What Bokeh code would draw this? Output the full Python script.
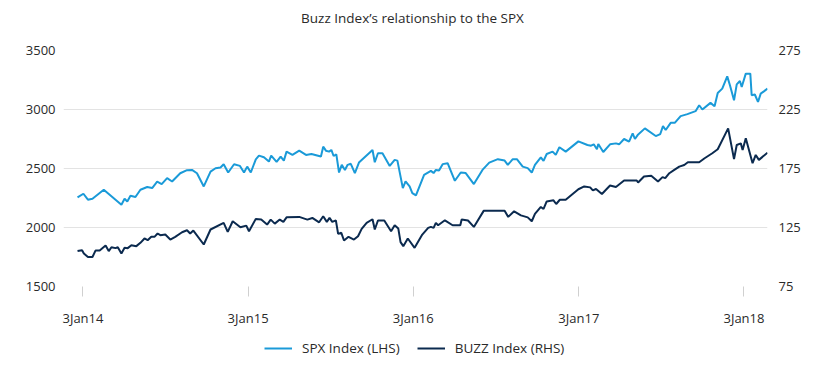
import pandas as pd
from bokeh.plotting import figure
from bokeh.layouts import column
from bokeh.models import (Range1d, LinearAxis, FixedTicker, Legend, LegendItem,
                          ColumnDataSource, Label)
from bokeh.embed import file_html
from bokeh.resources import INLINE

TITLE = "Buzz Index\u2019s relationship to the SPX"

spx_dates = [
    "2013-12-22", "2014-01-04", "2014-01-14", "2014-01-24", "2014-02-18", "2014-03-29",
    "2014-04-05", "2014-04-11", "2014-04-18", "2014-04-29", "2014-05-10", "2014-05-25",
    "2014-06-05", "2014-06-16", "2014-06-26", "2014-07-08", "2014-07-19", "2014-08-06",
    "2014-08-21", "2014-09-01", "2014-09-12", "2014-09-27", "2014-10-12", "2014-10-23",
    "2014-11-03", "2014-11-10", "2014-11-20", "2014-12-03", "2014-12-16", "2014-12-25",
    "2015-01-01", "2015-01-09", "2015-01-20", "2015-01-27", "2015-02-07", "2015-02-18",
    "2015-02-23", "2015-03-07", "2015-03-16", "2015-03-23", "2015-03-29", "2015-04-11",
    "2015-04-26", "2015-05-11", "2015-05-23", "2015-06-13", "2015-06-18", "2015-06-24",
    "2015-07-01", "2015-07-06", "2015-07-11", "2015-07-17", "2015-07-23", "2015-07-29",
    "2015-08-05", "2015-08-11", "2015-08-18", "2015-08-27", "2015-09-05", "2015-10-05",
    "2015-10-10", "2015-10-17", "2015-10-27", "2015-11-12", "2015-11-23", "2015-11-29",
    "2015-12-11", "2015-12-17", "2015-12-26", "2016-01-01", "2016-01-09", "2016-01-27",
    "2016-02-11", "2016-02-17", "2016-02-22", "2016-02-29", "2016-03-08", "2016-03-19",
    "2016-04-04", "2016-04-17", "2016-04-28", "2016-05-16", "2016-06-04", "2016-06-19",
    "2016-07-08", "2016-07-23", "2016-07-30", "2016-08-10", "2016-08-19", "2016-09-01",
    "2016-09-12", "2016-09-21", "2016-09-28", "2016-10-11", "2016-10-17", "2016-10-24",
    "2016-11-06", "2016-11-13", "2016-11-21", "2016-12-05", "2017-01-02", "2017-01-22",
    "2017-01-30", "2017-02-05", "2017-02-12", "2017-02-15", "2017-02-26", "2017-03-13",
    "2017-03-26", "2017-04-02", "2017-04-13", "2017-04-24", "2017-05-02", "2017-05-07",
    "2017-05-13", "2017-05-29", "2017-06-22", "2017-07-02", "2017-07-08", "2017-07-14",
    "2017-07-25", "2017-08-03", "2017-08-16", "2017-08-31", "2017-09-18", "2017-09-26",
    "2017-10-03", "2017-10-21", "2017-10-30", "2017-11-06", "2017-11-16", "2017-11-27",
    "2017-12-03", "2017-12-12", "2017-12-18", "2017-12-25", "2017-12-29", "2018-01-07",
    "2018-01-17", "2018-01-20", "2018-01-27", "2018-02-03", "2018-02-09", "2018-02-16",
    "2018-02-24",
]
spx_values = [
    2255, 2286, 2236, 2244, 2320, 2193,
    2244, 2221, 2269, 2258, 2320, 2343,
    2334, 2388, 2368, 2418, 2390, 2460,
    2486, 2488, 2460, 2348, 2474, 2502,
    2508, 2536, 2466, 2536, 2522, 2466,
    2516, 2466, 2578, 2609, 2595, 2559,
    2609, 2556, 2601, 2567, 2643, 2615,
    2651, 2615, 2623, 2601, 2685, 2651,
    2643, 2657, 2606, 2620, 2466, 2531,
    2488, 2531, 2540, 2461, 2550, 2657,
    2553, 2629, 2629, 2522, 2573, 2567,
    2334, 2390, 2348, 2292, 2272, 2446,
    2480, 2461, 2488, 2483, 2537, 2545,
    2396, 2466, 2461, 2368, 2488, 2550,
    2579, 2567, 2530, 2579, 2579, 2516,
    2503, 2466, 2530, 2595, 2564, 2623,
    2643, 2615, 2680, 2643, 2730, 2699,
    2693, 2705, 2663, 2708, 2640, 2705,
    2713, 2705, 2750, 2727, 2798, 2750,
    2783, 2840, 2775, 2792, 2859, 2826,
    2887, 2887, 2944, 2961, 2986, 3036,
    3000, 3056, 3028, 3140, 3177, 3281,
    3205, 3078, 3213, 3241, 3191, 3304,
    3304, 3121, 3127, 3064, 3135, 3154,
    3177,
]

buzz_dates = [
    "2013-12-22", "2014-01-01", "2014-01-05", "2014-01-14", "2014-01-24", "2014-01-31",
    "2014-02-09", "2014-02-22", "2014-03-01", "2014-03-07", "2014-03-16", "2014-03-21",
    "2014-03-29", "2014-04-05", "2014-04-12", "2014-04-20", "2014-05-01", "2014-05-10",
    "2014-05-19", "2014-05-26", "2014-06-03", "2014-06-10", "2014-06-17", "2014-06-23",
    "2014-07-04", "2014-07-15", "2014-07-26", "2014-08-10", "2014-08-21", "2014-08-28",
    "2014-09-04", "2014-09-27", "2014-10-12", "2014-11-10", "2014-11-19", "2014-11-30",
    "2014-12-17", "2014-12-30", "2015-01-05", "2015-01-20", "2015-02-01", "2015-02-14",
    "2015-02-22", "2015-03-03", "2015-03-14", "2015-03-22", "2015-03-29", "2015-04-26",
    "2015-05-14", "2015-05-25", "2015-06-09", "2015-06-18", "2015-06-26", "2015-07-02",
    "2015-07-08", "2015-07-16", "2015-07-21", "2015-07-28", "2015-08-03", "2015-08-13",
    "2015-08-25", "2015-09-03", "2015-09-11", "2015-09-22", "2015-10-05", "2015-10-10",
    "2015-10-17", "2015-10-31", "2015-11-15", "2015-11-23", "2015-12-01", "2015-12-06",
    "2015-12-12", "2015-12-22", "2016-01-06", "2016-01-23", "2016-02-05", "2016-02-11",
    "2016-02-17", "2016-02-22", "2016-02-27", "2016-03-13", "2016-03-30", "2016-04-16",
    "2016-04-19", "2016-05-03", "2016-05-16", "2016-06-07", "2016-07-04", "2016-07-23",
    "2016-07-31", "2016-08-13", "2016-08-28", "2016-09-12", "2016-09-21", "2016-09-28",
    "2016-10-11", "2016-10-17", "2016-10-24", "2016-11-08", "2016-11-14", "2016-11-22",
    "2016-12-05", "2017-01-02", "2017-01-15", "2017-01-28", "2017-02-03", "2017-02-10",
    "2017-02-23", "2017-03-13", "2017-03-26", "2017-04-13", "2017-05-11", "2017-05-14",
    "2017-05-27", "2017-06-12", "2017-06-27", "2017-07-07", "2017-07-13", "2017-07-22",
    "2017-08-02", "2017-08-13", "2017-08-24", "2017-09-01", "2017-09-26", "2017-10-08",
    "2017-10-25", "2017-11-06", "2017-11-29", "2017-12-12", "2017-12-18", "2017-12-27",
    "2017-12-31", "2018-01-07", "2018-01-22", "2018-01-29", "2018-02-05", "2018-02-24",
]
buzz_values = [
    105.0, 105.8, 103.0, 100.0, 100.0, 105.6,
    105.6, 109.8, 105.0, 108.3, 107.5, 108.3,
    103.0, 107.8, 107.5, 110.0, 109.2, 112.0,
    115.7, 114.2, 117.1, 117.1, 119.9, 118.5,
    119.0, 114.8, 117.1, 121.0, 122.7, 119.9,
    122.4, 110.6, 123.3, 128.9, 121.3, 130.3,
    125.2, 126.6, 121.8, 132.3, 131.7, 127.5,
    131.7, 128.3, 131.7, 129.8, 133.6, 134.0,
    131.7, 133.1, 129.4, 134.5, 129.8, 133.1,
    129.8, 131.1, 119.6, 120.5, 114.0, 117.1,
    114.8, 117.6, 123.8, 129.0, 132.0, 123.3,
    130.9, 130.9, 121.8, 126.9, 124.1, 112.6,
    109.2, 115.7, 107.8, 119.0, 124.7, 125.5,
    124.7, 128.9, 126.9, 131.1, 126.9, 126.9,
    131.7, 130.9, 125.5, 139.3, 139.3, 139.3,
    134.0, 138.7, 135.3, 133.6, 130.3, 136.5,
    142.4, 140.7, 147.1, 148.0, 144.9, 148.5,
    148.5, 157.4, 159.8, 159.0, 156.4, 157.6,
    153.4, 160.6, 159.3, 164.8, 164.8, 163.1,
    168.2, 168.8, 164.0, 167.7, 166.8, 171.0,
    173.8, 176.6, 178.0, 180.3, 180.3, 183.7,
    187.9, 191.3, 209.0, 182.9, 194.9, 196.3,
    190.7, 200.6, 179.5, 186.5, 182.3, 188.4,
]

x_tick_dates = ["2014-01-03", "2015-01-03", "2016-01-03", "2017-01-03", "2018-01-03"]
x_tick_labels = ["3Jan14", "3Jan15", "3Jan16", "3Jan17", "3Jan18"]
spx_ticks = [1500, 2000, 2500, 3000, 3500]
buzz_ticks = [75, 125, 175, 225, 275]
legend_labels = ["SPX Index (LHS)", "BUZZ Index (RHS)"]

SPX_COLOR = "#1a9ad8"
BUZZ_COLOR = "#0b2a4f"
FONT = "Open Sans"
TEXT_COLOR = "#2a2a2a"
W = 809
FRAME_LEFT = 63     # the column aligns every strip's frame with the chart's frame
FRAME_W = 704

spx_src = ColumnDataSource(dict(date=pd.to_datetime(spx_dates), value=spx_values))
buzz_src = ColumnDataSource(dict(date=pd.to_datetime(buzz_dates), value=buzz_values))

# ---- title strip ----
tt = figure(width=W, height=34, title=None, output_backend="svg", toolbar_location=None,
            min_border=0, x_axis_location=None, y_axis_location=None,
            x_range=Range1d(0, FRAME_W), y_range=Range1d(0, 34))
tt.grid.visible = False
tt.outline_line_color = None
tt.background_fill_color = "white"
tt.border_fill_color = "white"
tt.add_layout(Label(x=412 - FRAME_LEFT, y=17, text=TITLE, text_align="center",
                    text_baseline="middle", text_font=FONT, text_font_size="13.5px",
                    text_color=TEXT_COLOR))

# ---- main chart ----
p = figure(
    width=W, height=295, title=None,
    x_axis_type="datetime",
    x_range=Range1d(start=pd.Timestamp("2013-11-21"), end=pd.Timestamp("2018-02-24")),
    y_range=Range1d(start=1500, end=3500),
    output_backend="svg", toolbar_location=None,
    min_border_left=FRAME_LEFT, min_border_right=W - FRAME_LEFT - FRAME_W,
    min_border_top=16, min_border_bottom=42,
)
p.extra_y_ranges = {"buzz": Range1d(start=75, end=275)}

p.outline_line_color = None
p.background_fill_color = "white"
p.border_fill_color = "white"

p.xgrid.visible = False
p.ygrid.grid_line_color = "#e3e3e3"
p.ygrid.grid_line_width = 1
p.ygrid.ticker = FixedTicker(ticks=spx_ticks)

tick_ms = [pd.Timestamp(d).value / 1e6 for d in x_tick_dates]
xa = p.xaxis[0]
xa.ticker = FixedTicker(ticks=tick_ms)
xa.major_label_overrides = dict(zip(tick_ms, x_tick_labels))
xa.axis_line_color = None
xa.major_tick_line_color = "#d0d0d0"
xa.major_tick_out = 10
xa.major_tick_in = 0
xa.minor_tick_line_color = None
xa.major_label_standoff = 12
xa.major_label_text_font = FONT
xa.major_label_text_font_size = "13px"
xa.major_label_text_color = TEXT_COLOR

ya = p.yaxis[0]
ya.ticker = FixedTicker(ticks=spx_ticks)
ya.axis_line_color = None
ya.major_tick_line_color = None
ya.major_tick_out = 0
ya.major_tick_in = 0
ya.minor_tick_line_color = None
ya.major_label_standoff = 8
ya.major_label_text_font = FONT
ya.major_label_text_font_size = "13px"
ya.major_label_text_color = TEXT_COLOR

ra = LinearAxis(y_range_name="buzz", ticker=FixedTicker(ticks=buzz_ticks))
ra.axis_line_color = None
ra.major_tick_line_color = None
ra.major_tick_out = 0
ra.major_tick_in = 0
ra.minor_tick_line_color = None
ra.major_label_standoff = 11
ra.major_label_text_font = FONT
ra.major_label_text_font_size = "13px"
ra.major_label_text_color = TEXT_COLOR
p.add_layout(ra, "right")

p.line("date", "value", source=spx_src, line_color=SPX_COLOR, line_width=2)
p.line("date", "value", source=buzz_src, line_color=BUZZ_COLOR, line_width=2,
       y_range_name="buzz")

# ---- legend strip (its key lines reuse the series data, which lies outside this
#      strip's ranges, so only the legend itself is visible here) ----
lg = figure(width=W, height=30, title=None, output_backend="svg", toolbar_location=None,
            min_border=0, x_axis_location=None, y_axis_location=None,
            x_range=Range1d(0, 1), y_range=Range1d(0, 1))
lg.grid.visible = False
lg.outline_line_color = None
lg.background_fill_color = "white"
lg.border_fill_color = "white"
k_spx = lg.line("date", "value", source=spx_src, line_color=SPX_COLOR, line_width=2)
k_buzz = lg.line("date", "value", source=buzz_src, line_color=BUZZ_COLOR, line_width=2)

legend = Legend(
    items=[LegendItem(label=legend_labels[0], renderers=[k_spx]),
           LegendItem(label=legend_labels[1], renderers=[k_buzz])],
    orientation="horizontal", location=(264 - FRAME_LEFT, 2),
    border_line_color=None, background_fill_alpha=0,
    glyph_width=28, glyph_height=18, label_standoff=10, spacing=17,
    label_text_font=FONT, label_text_font_size="13.5px", label_text_color=TEXT_COLOR,
    margin=0, padding=0,
)
lg.add_layout(legend)

layout = column(tt, p, lg, spacing=0)
open("out.html", "w").write(file_html(layout, INLINE))
